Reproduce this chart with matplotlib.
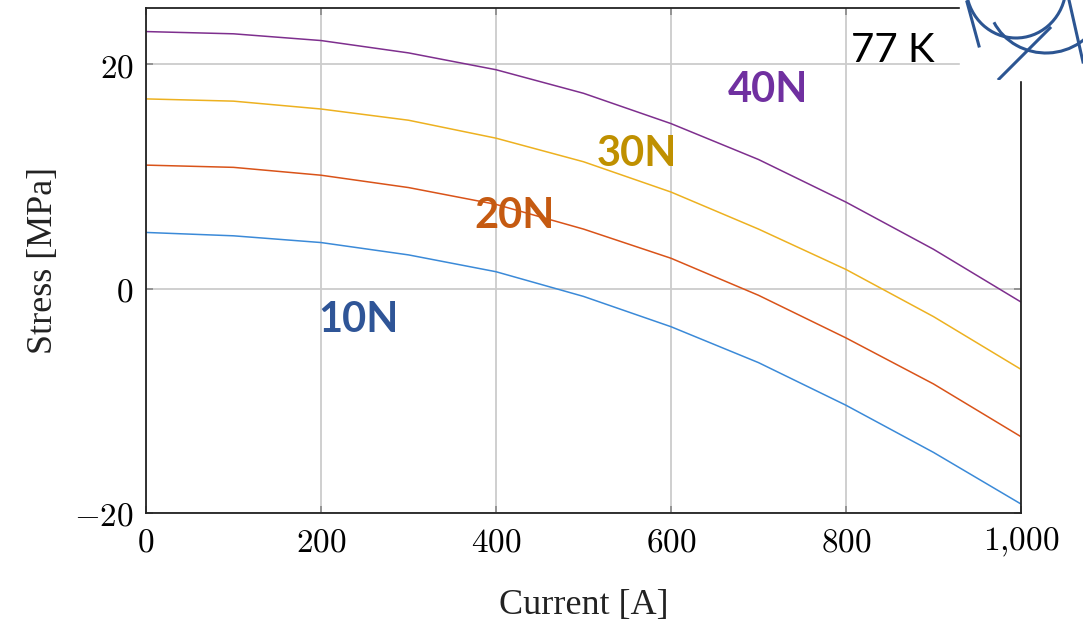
import numpy as np
import matplotlib.pyplot as plt
from matplotlib.patches import Arc, Rectangle
from matplotlib.ticker import FuncFormatter

plt.rcParams['mathtext.fontset'] = 'cm'

# stress vs current at 77 K for four preload forces
current = [0, 100, 200, 300, 400, 500, 600, 700, 800, 900, 1000]
stress_10n = [5.0, 4.7, 4.1, 3.0, 1.5, -0.7, -3.4, -6.6, -10.4, -14.6, -19.2]
stress_20n = [11.0, 10.8, 10.1, 9.0, 7.5, 5.3, 2.7, -0.6, -4.4, -8.5, -13.2]
stress_30n = [16.9, 16.7, 16.0, 15.0, 13.4, 11.3, 8.6, 5.3, 1.7, -2.5, -7.2]
stress_40n = [22.9, 22.7, 22.1, 21.0, 19.5, 17.4, 14.7, 11.5, 7.7, 3.5, -1.2]
labels = ['10N', '20N', '30N', '40N']
label_pos = [(197, -3.9), (375, 5.4), (515, 10.9), (665, 16.6)]

line_colors = ['#3b8ad8', '#d95319', '#edb120', '#7e2f8e']
text_colors = ['#2f5597', '#c55a11', '#bf9000', '#7030a0']

fig = plt.figure(figsize=(10.83, 6.2), dpi=100)
ax = fig.add_axes([146 / 1083, 107 / 620, 875 / 1083, 505 / 620])

for ys, lc in zip([stress_10n, stress_20n, stress_30n, stress_40n], line_colors):
    ax.plot(current, ys, color=lc, lw=1.1)

for lab, (tx, ty), tc in zip(labels, label_pos, text_colors):
    ax.text(tx, ty, lab, color=tc, fontsize=30, fontweight='bold',
            family='Lato', ha='left', va='baseline')

ax.text(806, 20.2, '77 K', color='black', fontsize=29, family='Lato',
        ha='left', va='baseline')

ax.set_xlim(0, 1000)
ax.set_ylim(-20, 25)
ax.set_xticks([0, 200, 400, 600, 800, 1000])
ax.set_yticks([-20, 0, 20])
ax.xaxis.set_major_formatter(FuncFormatter(lambda v, p: r'$%s$' % format(int(v), ',').replace(',', '{,}')))
ax.yaxis.set_major_formatter(FuncFormatter(lambda v, p: r'$%d$' % int(v)))
ax.tick_params(direction='in', length=5, width=1.2, color='#888888',
               labelsize=24, top=True, right=True, pad=9)
ax.grid(True, color='#cccccc', lw=1.3)
for s in ax.spines.values():
    s.set_linewidth(1.3)
    s.set_color('#222222')

ax.set_xlabel('Current [A]', family='Liberation Serif', fontsize=26, labelpad=22, color='#222222')
ax.set_ylabel('Stress [MPa]', family='Liberation Serif', fontsize=26, labelpad=10, color='#222222')

# logo patch in the top right corner
fig.patches.append(Rectangle((960 / 1083, 1 - 80 / 620), 123 / 1083, 80 / 620,
                             transform=fig.transFigure, color='white', zorder=5))
lax = fig.add_axes([960 / 1083, 1 - 80 / 620, 123 / 1083, 80 / 620], zorder=6)
lax.set_xlim(960, 1083)
lax.set_ylim(80, 0)
lax.axis('off')
logo = '#2c5592'
lax.add_patch(Arc((1016, -14), 100, 104, theta1=10, theta2=172, color=logo, lw=2.2))
lax.add_patch(Arc((1046, -2), 116, 110, theta1=20, theta2=155, color=logo, lw=2.2))
lax.plot([967, 979], [2, 46], color=logo, lw=2.2)
lax.plot([999, 1050], [79, 28], color=logo, lw=2.2)
lax.plot([1069, 1083], [0, 62], color=logo, lw=2.2)

fig.savefig('out.png', dpi=100)
